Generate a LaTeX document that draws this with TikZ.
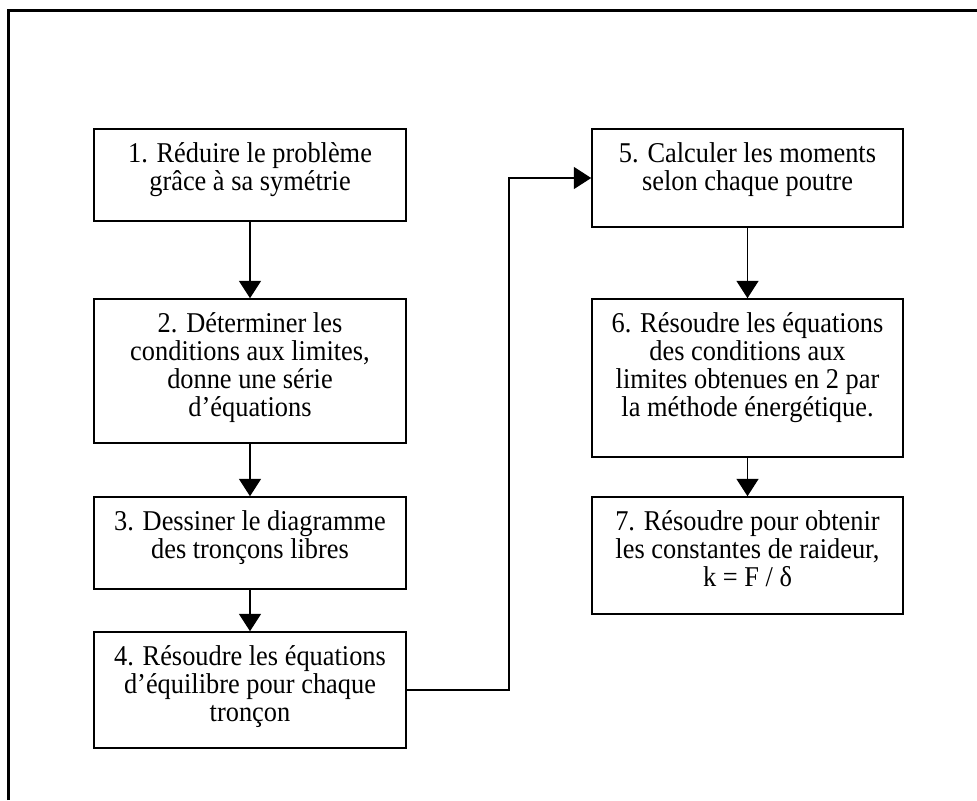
\documentclass[tikz,border=0pt]{standalone}
\usepackage{fontspec}
\setmainfont{Liberation Serif}[FakeStretch=0.92]
\usetikzlibrary{arrows.meta}
\newcommand{\stepfont}{\fontsize{21.5}{21.2}\selectfont}
\newcommand{\steptext}[3]{\parbox[c][#1][t]{#2}{\centering\stepfont\rule{0pt}{24.75pt}#3}}

\begin{document}
\begin{tikzpicture}[x=0.75pt,y=-0.75pt]
\tikzset{stepbox/.style={draw,line width=1.2pt,inner sep=0pt},
  flow/.style={line width=0.9pt,-{Triangle[width=16.5pt,length=13pt]}}}
\useasboundingbox (0,0) rectangle (977,800);
\draw[line width=2.25pt] (8.5,800) -- (8.5,10) -- (977,10);
\node[stepbox] (s1) at (250,175) {\steptext{69pt}{234pt}{1. Réduire le problème\\grâce à sa symétrie}};
\node[stepbox] (s2) at (250,371) {\steptext{108pt}{234pt}{2. Déterminer les\\conditions aux limites,\\donne une série\\d’équations}};
\node[stepbox] (s3) at (250,543) {\steptext{69pt}{234pt}{3. Dessiner le diagramme\\des tronçons libres}};
\node[stepbox] (s4) at (250,690) {\steptext{87pt}{234pt}{4. Résoudre les équations\\d’équilibre pour chaque\\tronçon}};
\node[stepbox] (s5) at (747.5,178) {\steptext{73.5pt}{233.25pt}{5. Calculer les moments\\selon chaque poutre}};
\node[stepbox] (s6) at (747.5,378) {\steptext{118.5pt}{233.25pt}{6. Résoudre les équations\\des conditions aux\\limites obtenues en 2 par\\la méthode énergétique.}};
\node[stepbox] (s7) at (747.5,555.5) {\steptext{87.75pt}{233.25pt}{7. Résoudre pour obtenir\\les constantes de raideur,\\k = F / δ}};
\coordinate (turn) at (509,690);
\draw[flow] (s1) -- (s2);
\draw[flow] (s2) -- (s3);
\draw[flow] (s3) -- (s4);
\draw[flow] (s4.east) -- (turn) |- (s5.west);
\draw[flow] (s5) -- (s6);
\draw[flow] (s6) -- (s7);
\end{tikzpicture}
\end{document}
